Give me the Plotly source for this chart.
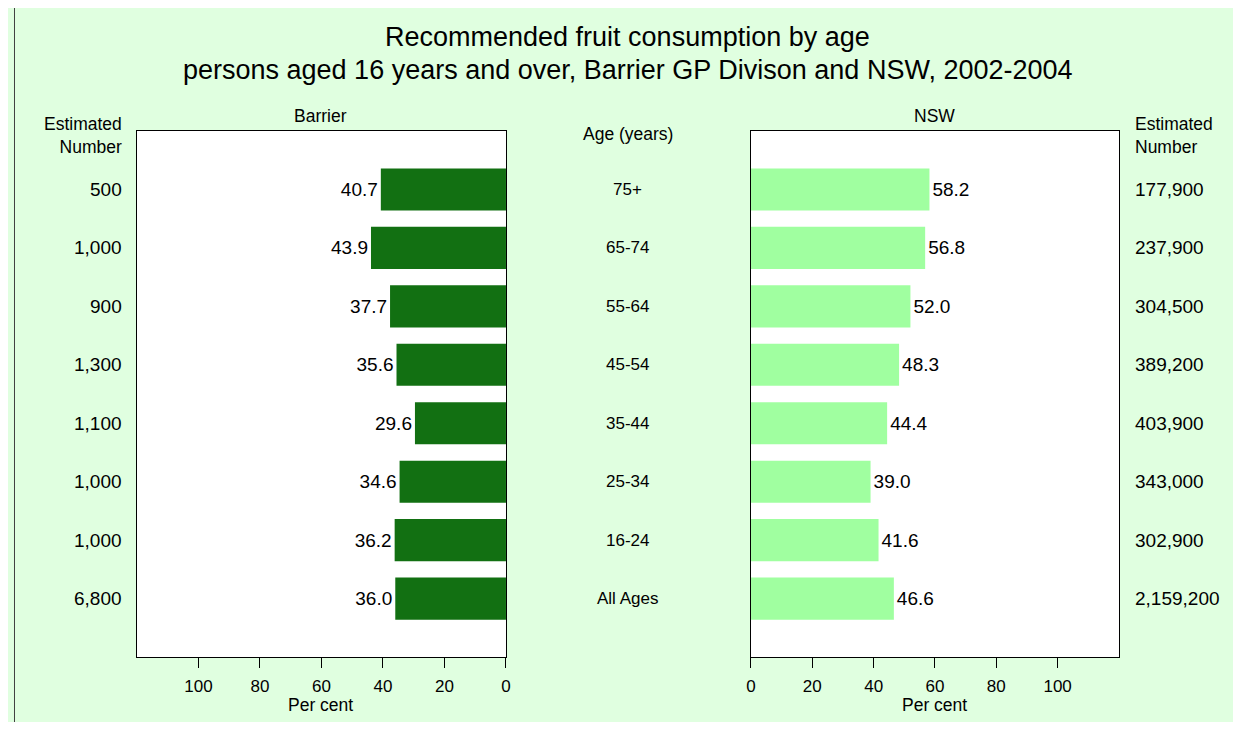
import plotly.graph_objects as go

# %%
age_groups = ["75+", "65-74", "55-64", "45-54", "35-44", "25-34", "16-24", "All Ages"]
barrier_pct = [40.7, 43.9, 37.7, 35.6, 29.6, 34.6, 36.2, 36.0]
nsw_pct = [58.2, 56.8, 52.0, 48.3, 44.4, 39.0, 41.6, 46.6]
barrier_number = ["500", "1,000", "900", "1,300", "1,100", "1,000", "1,000", "6,800"]
nsw_number = ["177,900", "237,900", "304,500", "389,200", "403,900", "343,000", "302,900", "2,159,200"]
pct_ticks = [0, 20, 40, 60, 80, 100]

# the page body has an 8px margin, so the figure is drawn from (8, 8);
# keep it small enough that the page does not scroll
OFF = 8
W, H = 1241 - OFF, 730 - 2 * OFF
FONT = "Arial, Liberation Sans, sans-serif"
BG = "#e0ffe0"


def px_x(x):
    return (x - OFF) / W


def px_y(y):
    return 1 - (y - OFF) / H


fig = go.Figure()
fig.add_trace(
    go.Bar(
        y=age_groups,
        x=barrier_pct,
        orientation="h",
        width=0.72,
        marker=dict(color="#127012", line=dict(width=0)),
        texttemplate="%{x:.1f}",
        textposition="outside",
        textfont=dict(size=19, color="black"),
        cliponaxis=False,
        xaxis="x",
        yaxis="y",
    )
)
fig.add_trace(
    go.Bar(
        y=age_groups,
        x=nsw_pct,
        orientation="h",
        width=0.72,
        marker=dict(color="#a0ffa0", line=dict(width=0)),
        texttemplate="%{x:.1f}",
        textposition="outside",
        textfont=dict(size=19, color="black"),
        cliponaxis=False,
        xaxis="x2",
        yaxis="y2",
    )
)

axis_common = dict(
    showline=True,
    linecolor="black",
    linewidth=1,
    mirror=True,
    showgrid=False,
    zeroline=False,
    ticks="outside",
    ticklen=10,
    tickcolor="black",
    tickvals=pct_ticks,
    tickfont=dict(size=17, color="black", family=FONT),
    ticklabelstandoff=4,
)
ycommon = dict(
    showline=True,
    linecolor="black",
    linewidth=1,
    mirror=True,
    showgrid=False,
    zeroline=False,
    showticklabels=False,
    ticks="",
    type="category",
    categoryorder="array",
    categoryarray=age_groups,
    range=[7.999, -1],
    domain=[px_y(657), px_y(131)],
)

fig.update_layout(
    width=W,
    height=H,
    margin=dict(l=0, r=0, t=0, b=0),
    paper_bgcolor=BG,
    plot_bgcolor="white",
    showlegend=False,
    font=dict(family=FONT, color="black"),
    xaxis=dict(axis_common, domain=[px_x(133), px_x(505)], range=[120, 0], anchor="y"),
    xaxis2=dict(axis_common, domain=[px_x(752), px_x(1123)], range=[0, 120], anchor="y2"),
    yaxis=dict(ycommon, anchor="x"),
    yaxis2=dict(ycommon, anchor="x2", matches="y"),
)


def label(text, x, y, size, xanchor="center", yref="paper", align="center"):
    return dict(
        text=text,
        x=px_x(x),
        y=px_y(y) if yref == "paper" else y,
        xref="paper",
        yref=yref,
        xanchor=xanchor,
        yanchor="middle",
        align=align,
        showarrow=False,
        font=dict(size=size),
    )


annotations = [
    label("Recommended fruit consumption by age", 628, 37, 27),
    label("persons aged 16 years and over, Barrier GP Divison and NSW, 2002-2004", 628, 70, 27),
    label("Barrier", 318, 116, 17.5),
    label("NSW", 937, 116, 17.5),
    label("Age (years)", 628, 134, 17.5),
    label("Estimated<br>Number", 120, 135, 17.5, xanchor="right", align="right"),
    label("Estimated<br>Number", 1137, 135, 17.5, xanchor="left", align="left"),
    label("Per cent", 318, 705, 17.5),
    label("Per cent", 937, 705, 17.5),
]
for age, left_num, right_num in zip(age_groups, barrier_number, nsw_number):
    annotations.append(label(left_num, 120, age, 19, xanchor="right", yref="y"))
    annotations.append(label(age, 628, age, 17, yref="y"))
    annotations.append(label(right_num, 1137, age, 19, xanchor="left", yref="y"))
fig.update_layout(annotations=annotations)

# outer frame of the chart
fig.add_shape(type="rect", xref="paper", yref="paper",
              x0=px_x(9.5), x1=1.05, y0=-0.05, y1=px_y(5.5),
              line=dict(color="#404040", width=1), fillcolor="rgba(0,0,0,0)", layer="above")

fig.write_html("out.html")
